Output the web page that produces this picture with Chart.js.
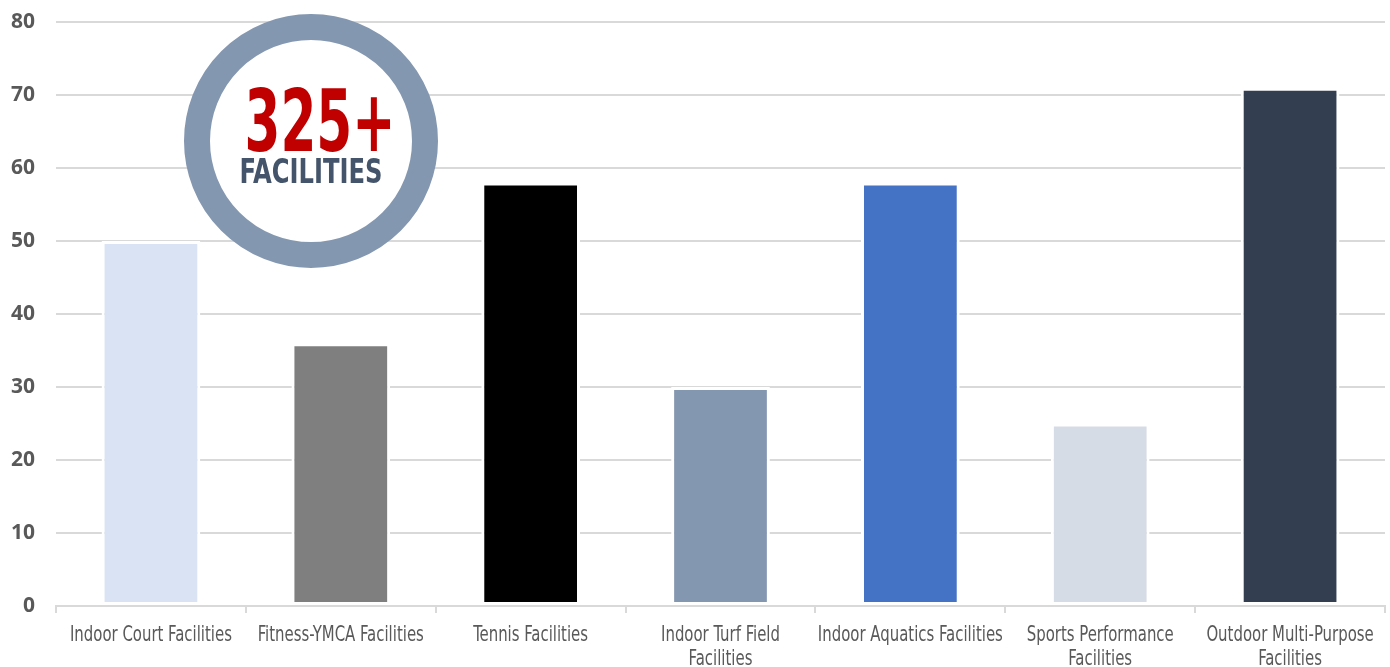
<!DOCTYPE html>
<html>
<head>
<meta charset="utf-8">
<script src="https://cdn.jsdelivr.net/npm/chart.js@4.4.1/dist/chart.umd.min.js"></script>
<style>
    html, body { margin: 0; padding: 0; background: #fff; }
    #wrap { width: 1390px; height: 667px; }
</style>
</head>
<body>
<div id="wrap"><canvas id="facilityChart"></canvas></div>
<script>
const categories = [
    'Indoor Court Facilities',
    'Fitness-YMCA Facilities',
    'Tennis Facilities',
    ['Indoor Turf Field', 'Facilities'],
    'Indoor Aquatics Facilities',
    ['Sports Performance', 'Facilities'],
    ['Outdoor Multi-Purpose', 'Facilities'],
];
const facilityCounts = [50, 36, 58, 30, 58, 25, 71];
const barColors = ['#dae3f3', '#7f7f7f', '#000000', '#8497b0', '#4472c4', '#d6dce5', '#333f50'];
const badgeNumber = '325+';
const badgeLabel = 'FACILITIES';

const NARROW = '"DejaVu Sans Condensed", "Liberation Sans Narrow", sans-serif';

// condensed-text helper: squeeze a font horizontally by a factor
function drawSqueezed(ctx, text, cx, baseline, font, squeeze, color) {
    ctx.save();
    ctx.font = font;
    ctx.translate(cx, baseline);
    ctx.scale(squeeze, 1);
    ctx.fillStyle = color;
    ctx.textAlign = 'center';
    ctx.textBaseline = 'alphabetic';
    ctx.fillText(text, 0, 0);
    ctx.restore();
}

function squeezeFor(ctx, text, font, width) {
    ctx.save();
    ctx.font = font;
    const natural = ctx.measureText(text).width;
    ctx.restore();
    return width / natural;
}

// category labels in a tall, narrow face under the x axis
const categoryLabelPlugin = {
    id: 'categoryLabels',
    afterDraw(chart) {
        const { ctx } = chart;
        const x = chart.scales.x;
        const font = `21px ${NARROW}`;
        const squeeze = squeezeFor(ctx, 'Indoor Court Facilities', font, 162);
        categories.forEach((label, i) => {
            const lines = Array.isArray(label) ? label : [label];
            const cx = x.getPixelForTick(i);
            lines.forEach((line, j) => {
                drawSqueezed(ctx, line, cx, x.top + 35 + j * 24, font, squeeze, '#595959');
            });
        });
    },
};

const badgePlugin = {
    id: 'badge',
    afterDraw(chart) {
        const { ctx, chartArea } = chart;
        const cx = chartArea.left + 255;
        const cy = chartArea.top + 119;
        ctx.save();
        ctx.beginPath();
        ctx.arc(cx, cy, 114, 0, Math.PI * 2);
        ctx.fillStyle = '#ffffff';
        ctx.fill();
        ctx.lineWidth = 26;
        ctx.strokeStyle = '#8497b0';
        ctx.stroke();
        ctx.restore();
        const bigFont = `bold 86px ${NARROW}`;
        const smallFont = `bold 34px ${NARROW}`;
        drawSqueezed(ctx, badgeNumber, cx + 9, cy + 10, bigFont, squeezeFor(ctx, badgeNumber, bigFont, 151), '#c00000');
        drawSqueezed(ctx, badgeLabel, cx, cy + 42, smallFont, squeezeFor(ctx, badgeLabel, smallFont, 143), '#44546a');
    },
};

new Chart(document.getElementById('facilityChart'), {
    type: 'bar',
    data: {
        labels: categories,
        datasets: [{
            data: facilityCounts,
            backgroundColor: barColors,
            borderColor: '#ffffff',
            borderWidth: 3,
            borderSkipped: false,
            barPercentage: 0.52,
            categoryPercentage: 1,
        }],
    },
    options: {
        responsive: true,
        maintainAspectRatio: false,
        animation: false,
        layout: { padding: { top: 22, right: 5, left: 0, bottom: 0 } },
        plugins: {
            legend: { display: false },
            tooltip: { enabled: false },
        },
        scales: {
            x: {
                offset: true,
                border: { display: true, color: '#d9d9d9', width: 2 },
                grid: {
                    drawOnChartArea: false,
                    drawTicks: true,
                    tickLength: 7,
                    color: '#d9d9d9',
                    lineWidth: 2,
                },
                ticks: { display: false },
                afterFit(scale) { scale.height = 61; },
            },
            y: {
                min: 0,
                max: 80,
                border: { display: false },
                grid: { color: '#d9d9d9', lineWidth: 2, drawTicks: false },
                ticks: {
                    stepSize: 10,
                    color: '#595959',
                    padding: 21,
                    font: { family: '"Open Sans", sans-serif', size: 21, weight: 'bold' },
                },
                afterFit(scale) {
                    scale.width = 56;
                    scale.paddingTop = 0;
                    scale.paddingBottom = 0;
                },
            },
        },
    },
    plugins: [categoryLabelPlugin, badgePlugin],
});
</script>
</body>
</html>
